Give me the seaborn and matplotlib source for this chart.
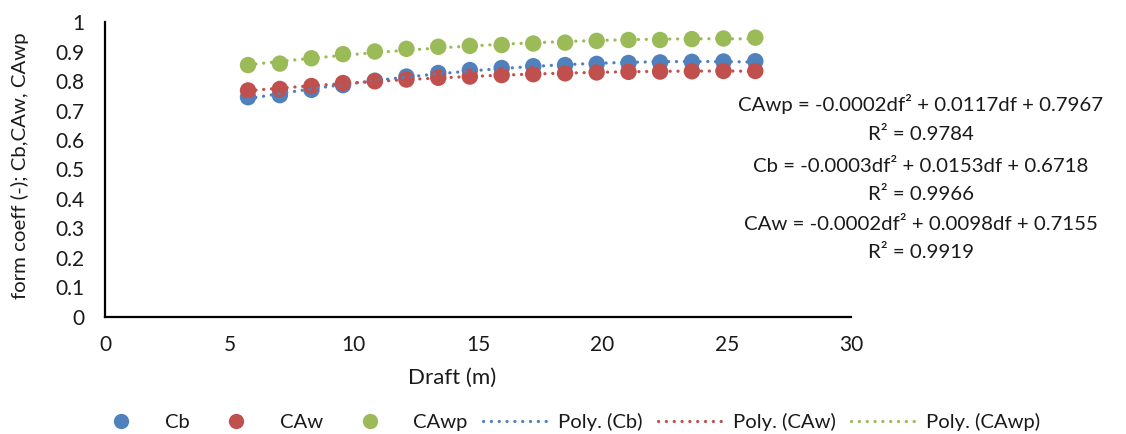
import numpy as np
import pandas as pd
import matplotlib
matplotlib.use("Agg")
import matplotlib.pyplot as plt
import seaborn as sns
from matplotlib.lines import Line2D

# ---- data ----
draft = [5.75, 7.03, 8.30, 9.57, 10.85, 12.12, 13.40, 14.67, 15.95,
         17.22, 18.50, 19.77, 21.05, 22.32, 23.60, 24.87, 26.15]
cb = [0.745, 0.752, 0.770, 0.786, 0.801, 0.815, 0.827, 0.837, 0.844,
      0.850, 0.854, 0.858, 0.861, 0.863, 0.865, 0.866, 0.867]
caw = [0.768, 0.773, 0.783, 0.793, 0.799, 0.805, 0.811, 0.815, 0.820,
       0.823, 0.826, 0.829, 0.831, 0.832, 0.833, 0.834, 0.834]
cawp = [0.854, 0.859, 0.877, 0.891, 0.900, 0.909, 0.916, 0.919, 0.922,
        0.927, 0.930, 0.936, 0.939, 0.939, 0.942, 0.944, 0.947]
series_names = ["Cb", "CAw", "CAwp"]
trend_names = ["Poly. (Cb)", "Poly. (CAw)", "Poly. (CAwp)"]
x_ticks = [0, 5, 10, 15, 20, 25, 30]
y_ticks = [0, 0.1, 0.2, 0.3, 0.4, 0.5, 0.6, 0.7, 0.8, 0.9, 1]
y_tick_labels = ["0", "0.1", "0.2", "0.3", "0.4", "0.5", "0.6", "0.7", "0.8", "0.9", "1"]
equation_lines = [
    "CAwp = -0.0002df² + 0.0117df + 0.7967",
    "R² = 0.9784",
    "Cb = -0.0003df² + 0.0153df + 0.6718",
    "R² = 0.9966",
    "CAw = -0.0002df² + 0.0098df + 0.7155",
    "R² = 0.9919",
]
x_label = "Draft (m)"
y_label = "form coeff (-); Cb,CAw, CAwp"

colors = ["#4F81BD", "#C0504D", "#9BBB59"]

sns.set_style("white")
plt.rcParams['font.family'] = ['Lato', 'DejaVu Sans']

df = pd.DataFrame({
    "draft": draft * 3,
    "value": cb + caw + cawp,
    "series": [s for s in series_names for _ in draft],
})

fig = plt.figure(figsize=(11.26, 4.34), dpi=100)
ax = fig.add_axes([0.0933, 0.2696, 0.6625, 0.6797])

sns.scatterplot(data=df, x="draft", y="value", hue="series",
                hue_order=series_names, palette=colors, s=140,
                linewidth=0, ax=ax, legend=False, zorder=2)

dot_style = (0, (0.05, 2.4))
for name, col in zip(series_names, colors):
    sns.regplot(data=df[df["series"] == name], x="draft", y="value",
                order=2, ci=None, scatter=False, ax=ax,
                line_kws=dict(color=col, lw=2.3, linestyle=dot_style,
                              dash_capstyle="round", zorder=3))

ax.set_xlim(0, 30)
ax.set_ylim(0, 1)
ax.set_xticks(x_ticks)
ax.set_yticks(y_ticks)
ax.set_yticklabels(y_tick_labels)
for side in ["top", "right"]:
    ax.spines[side].set_visible(False)
for side in ["left", "bottom"]:
    ax.spines[side].set_color("black")
    ax.spines[side].set_linewidth(1.6)
ax.tick_params(axis="both", length=0, labelsize=15, colors="#1a1a1a")
ax.tick_params(axis="y", pad=15)
ax.tick_params(axis="x", pad=13)
ax.set_xlabel(x_label, fontsize=16, color="#1a1a1a")
ax.xaxis.set_label_coords((452 - 105) / 746, -(368 - 317) / 295)
ax.set_ylabel(y_label, fontsize=14.7, color="#1a1a1a")
ax.yaxis.set_label_coords(-(105 - 29) / 746, 0.512)

# trendline equations
ys = [104, 135, 166, 195, 224, 253]
for txt, yp in zip(equation_lines, ys):
    fig.text(921 / 1126, 1 - yp / 434, txt, ha="center", va="center",
             fontsize=14.7, color="#1a1a1a")

handles = []
for name, col in zip(series_names, colors):
    handles.append(Line2D([], [], linestyle="none", marker="o", markersize=11,
                          markerfacecolor=col, markeredgewidth=0, label=name))
for name, col in zip(trend_names, colors):
    handles.append(Line2D([], [], color=col, lw=2.3, linestyle=dot_style,
                          dash_capstyle="round", label=name))
fig.legend(handles=handles, loc="center", bbox_to_anchor=(565 / 1126, 1 - 422 / 434),
           ncol=6, frameon=False, fontsize=14.6, handlelength=3.1,
           columnspacing=0.75, handletextpad=0.6, labelcolor="#1a1a1a",
           borderaxespad=0, borderpad=0)

fig.savefig("out.png", dpi=100)
